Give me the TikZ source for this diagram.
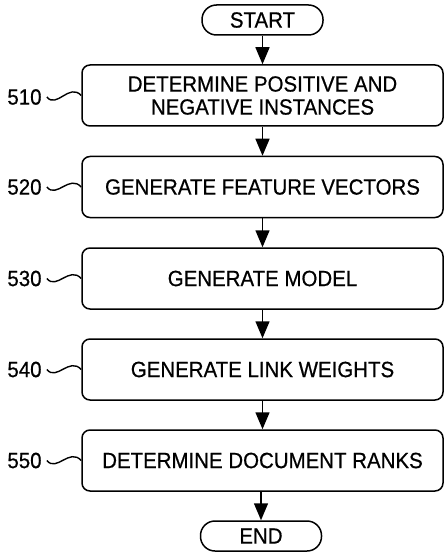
\documentclass[tikz,border=0pt]{standalone}
\usepackage{fontspec}
\setmainfont{Liberation Sans}[FakeStretch=0.93,FakeBold=0.6]
\usetikzlibrary{arrows.meta}
\begin{document}
\begin{tikzpicture}[x=1pt,y=-1pt,
  stepbox/.style={draw,line width=1.5pt,rounded corners=8pt,minimum width=361pt,minimum height=61pt,align=center,inner sep=0pt,font=\fontsize{22}{23}\selectfont},
  termbox/.style={draw,line width=1.5pt,rounded corners=14.5pt,minimum width=121pt,minimum height=30pt,inner sep=0pt,font=\fontsize{22}{24}\selectfont},
  reflabel/.style={inner sep=0pt,font=\fontsize{22}{24}\selectfont},
  flow/.style={line width=1.5pt,-{Triangle[length=17pt,width=14pt]}},
  squiggle/.style={line width=1.4pt}]
\useasboundingbox (0,0) rectangle (447,553);
\node[termbox] (start) at (262.5,20) {START};
\node[stepbox] (s510) at (262.5,95.5) {DETERMINE POSITIVE AND\\NEGATIVE INSTANCES};
\node[stepbox] (s520) at (262.5,187) {GENERATE FEATURE VECTORS};
\node[stepbox] (s530) at (262.5,278.5) {GENERATE MODEL};
\node[stepbox] (s540) at (262.5,369.5) {GENERATE LINK WEIGHTS};
\node[stepbox] (s550) at (262.5,460.5) {DETERMINE DOCUMENT RANKS};
\node[termbox] (end) at (261,536) {END};
\foreach \n/\y in {510/97,520/187,530/278.5,540/369.5,550/460.5}{
  \node[reflabel] (l\n) at (24.5,\y) {\n};
  \draw[squiggle] ([xshift=5pt]l\n.east) .. controls +(10,12) and +(-12,-13) .. (s\n.west);
}
\draw[flow] (start) -- (s510);
\draw[flow] (s510) -- (s520);
\draw[flow] (s520) -- (s530);
\draw[flow] (s530) -- (s540);
\draw[flow] (s540) -- (s550);
\draw[flow] (s550.south -| end) -- (end);
\end{tikzpicture}
\end{document}
